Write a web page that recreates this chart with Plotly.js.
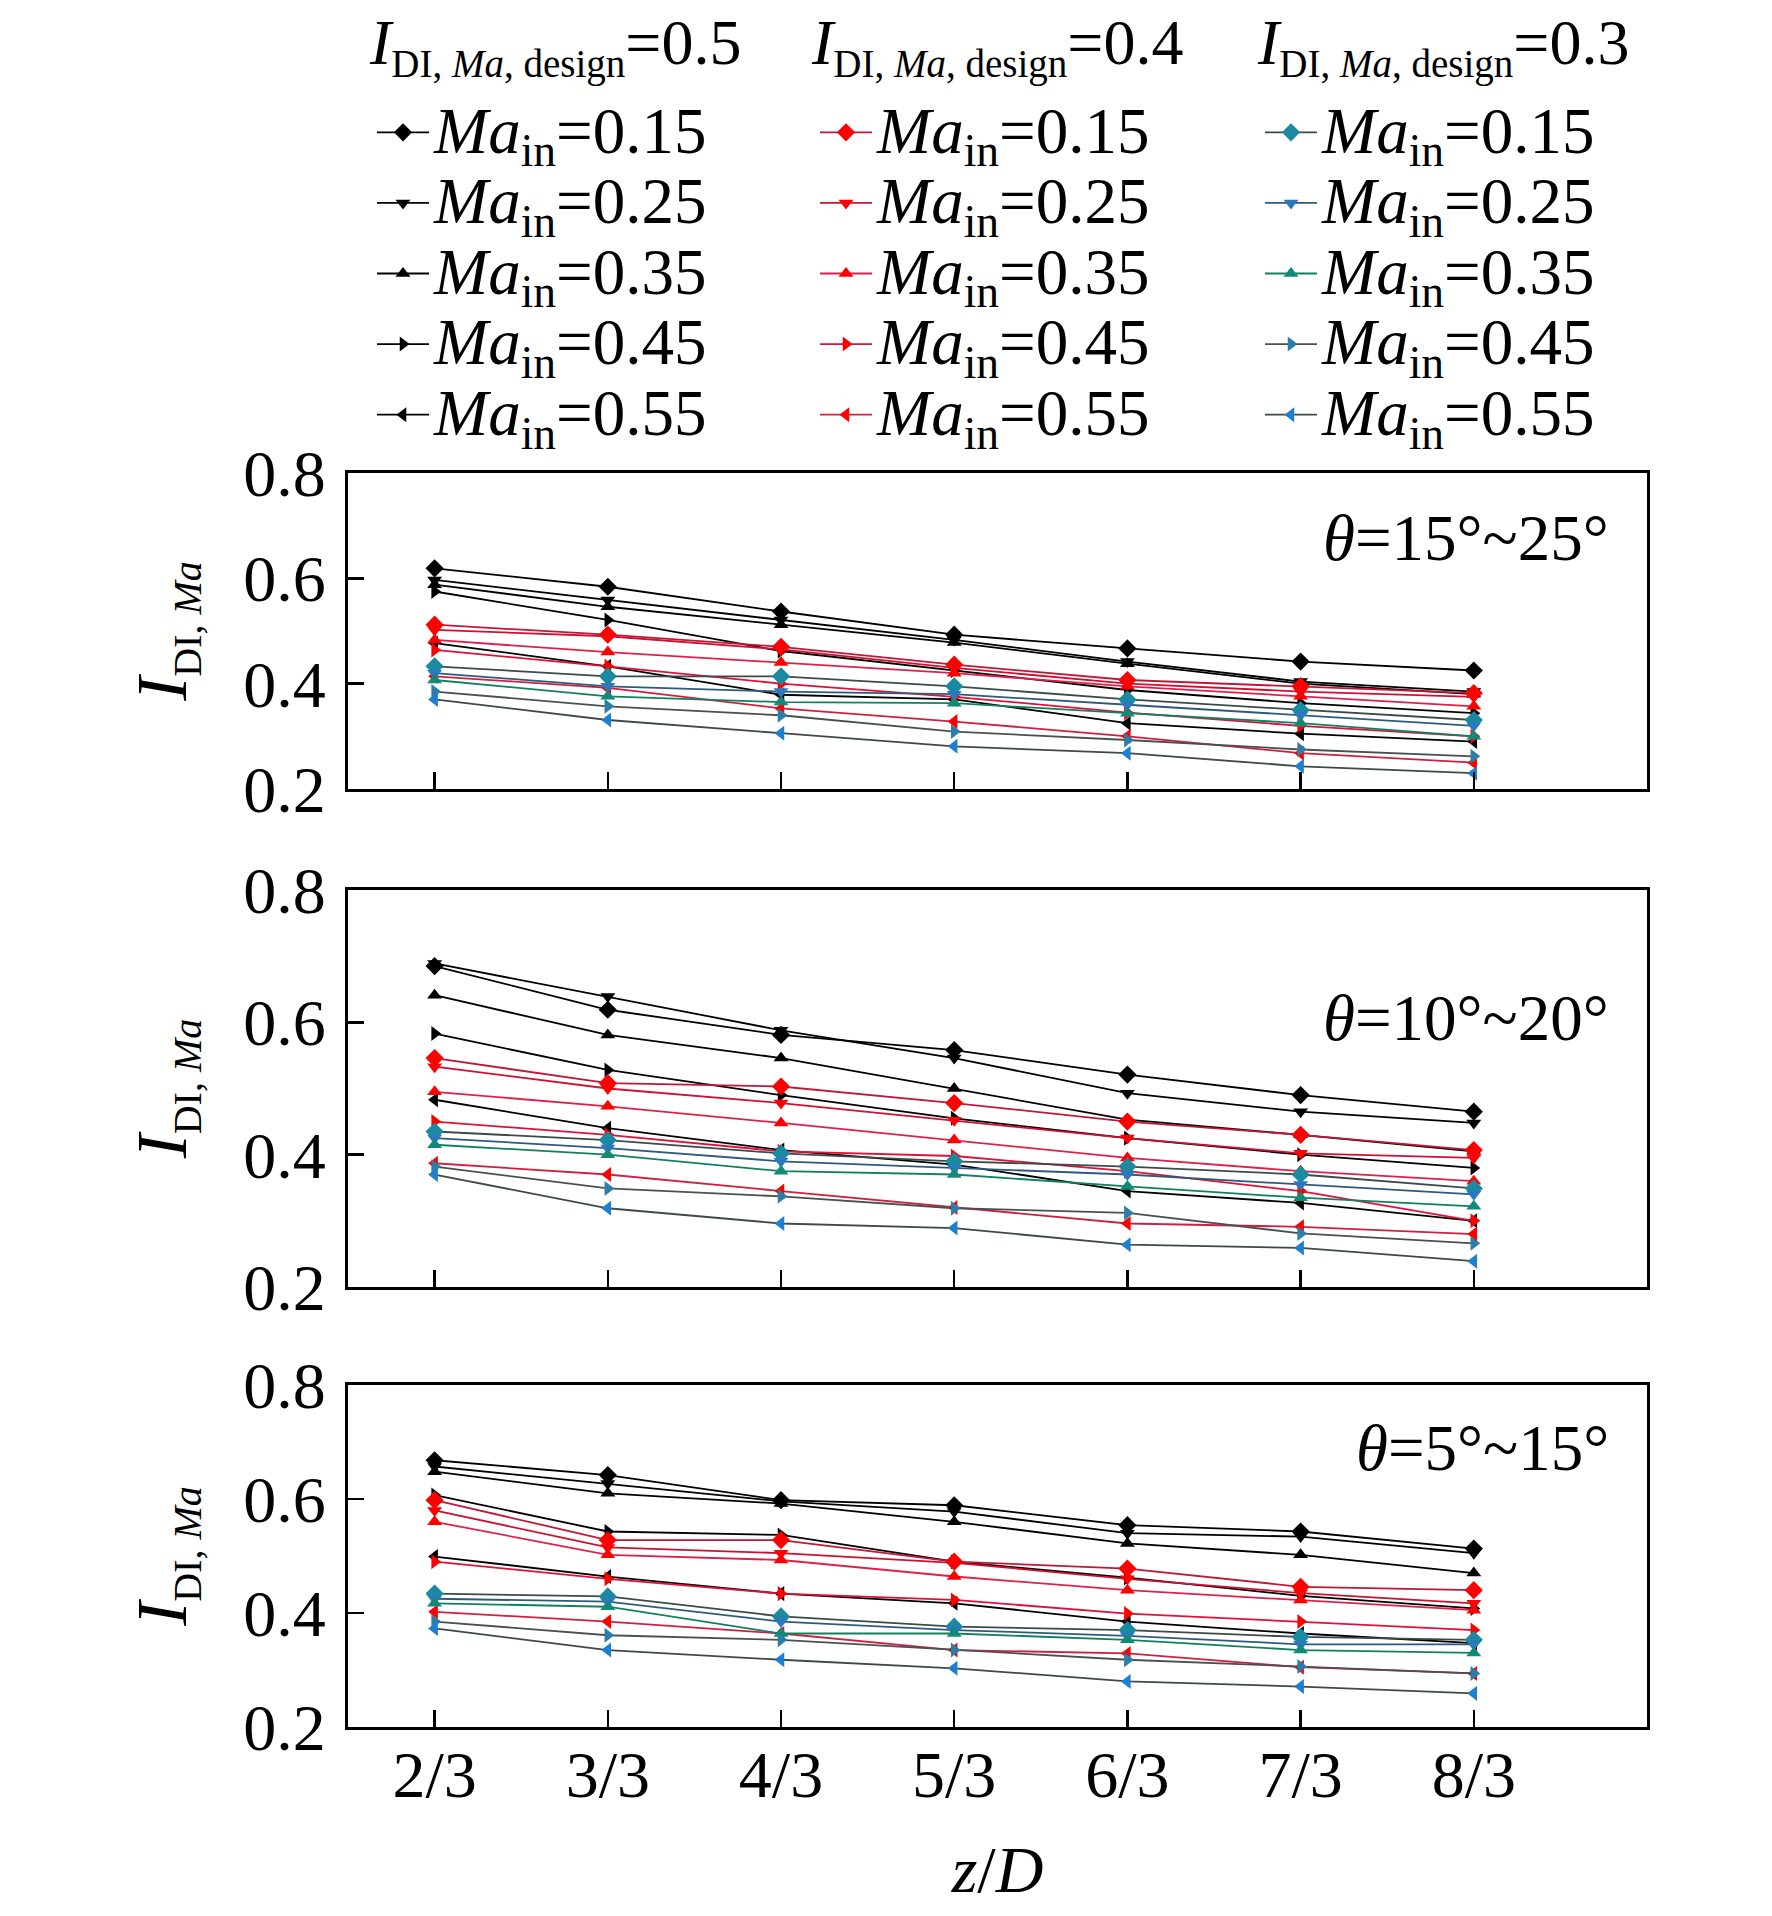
<!DOCTYPE html>
<html>
<head>
<meta charset="utf-8">
<script src="https://cdn.plot.ly/plotly-3.0.1.min.js"></script>
<style>body{margin:0;background:#fff;}</style>
</head>
<body>
<div id="chart" style="width:1772px;height:1916px;"></div>
<script>
// x positions (z/D) and their tick labels
const zD = [2/3, 3/3, 4/3, 5/3, 6/3, 7/3, 8/3];
const zDLabels = ['2/3', '3/3', '4/3', '5/3', '6/3', '7/3', '8/3'];
const maIn = ['0.15', '0.25', '0.35', '0.45', '0.55'];
const designs = ['0.5', '0.4', '0.3'];
const thetaLabels = ['15°~25°', '10°~20°', '5°~15°'];

// theta = 15~25 deg, rows are Ma_in = 0.15 .. 0.55
const t1525_d05 = [
  [0.619, 0.584, 0.537, 0.493, 0.467, 0.442, 0.425],
  [0.597, 0.559, 0.521, 0.483, 0.442, 0.404, 0.385],
  [0.588, 0.546, 0.512, 0.478, 0.438, 0.400, 0.380],
  [0.575, 0.521, 0.462, 0.425, 0.388, 0.363, 0.344],
  [0.477, 0.433, 0.379, 0.370, 0.325, 0.305, 0.290]
];
const t1525_d04 = [
  [0.512, 0.493, 0.470, 0.436, 0.407, 0.395, 0.382],
  [0.502, 0.490, 0.465, 0.430, 0.400, 0.385, 0.375],
  [0.483, 0.460, 0.440, 0.420, 0.395, 0.376, 0.357],
  [0.464, 0.433, 0.400, 0.375, 0.345, 0.320, 0.300],
  [0.414, 0.392, 0.353, 0.328, 0.300, 0.268, 0.250]
];
const t1525_d03 = [
  [0.433, 0.414, 0.414, 0.395, 0.370, 0.350, 0.331],
  [0.420, 0.395, 0.385, 0.380, 0.360, 0.340, 0.320],
  [0.407, 0.376, 0.365, 0.363, 0.344, 0.325, 0.300],
  [0.385, 0.357, 0.340, 0.309, 0.293, 0.275, 0.262],
  [0.370, 0.331, 0.306, 0.281, 0.268, 0.243, 0.230]
];

// theta = 10~20 deg
const t1020_d05 = [
  [0.685, 0.619, 0.581, 0.558, 0.521, 0.490, 0.465],
  [0.689, 0.639, 0.588, 0.546, 0.493, 0.465, 0.448],
  [0.641, 0.581, 0.546, 0.500, 0.453, 0.430, 0.405],
  [0.583, 0.528, 0.490, 0.455, 0.425, 0.400, 0.380],
  [0.483, 0.440, 0.407, 0.385, 0.345, 0.327, 0.300]
];
const t1020_d04 = [
  [0.546, 0.508, 0.503, 0.478, 0.450, 0.430, 0.407],
  [0.533, 0.500, 0.478, 0.452, 0.425, 0.402, 0.395],
  [0.495, 0.473, 0.448, 0.422, 0.395, 0.375, 0.360],
  [0.450, 0.430, 0.405, 0.398, 0.375, 0.345, 0.300],
  [0.387, 0.370, 0.345, 0.320, 0.296, 0.291, 0.280]
];
const t1020_d03 = [
  [0.435, 0.422, 0.402, 0.390, 0.382, 0.370, 0.349],
  [0.425, 0.410, 0.390, 0.380, 0.370, 0.355, 0.340],
  [0.415, 0.400, 0.375, 0.370, 0.352, 0.335, 0.322],
  [0.382, 0.349, 0.337, 0.319, 0.312, 0.281, 0.266],
  [0.370, 0.319, 0.296, 0.289, 0.264, 0.259, 0.239]
];

// theta = 5~15 deg
const t0515_d05 = [
  [0.668, 0.642, 0.598, 0.589, 0.554, 0.543, 0.513],
  [0.657, 0.627, 0.596, 0.578, 0.540, 0.534, 0.505],
  [0.648, 0.610, 0.592, 0.560, 0.522, 0.502, 0.470],
  [0.607, 0.543, 0.537, 0.490, 0.462, 0.430, 0.408],
  [0.499, 0.464, 0.434, 0.417, 0.385, 0.364, 0.347]
];
const t0515_d04 = [
  [0.598, 0.528, 0.528, 0.490, 0.478, 0.446, 0.440],
  [0.580, 0.515, 0.505, 0.488, 0.460, 0.435, 0.417],
  [0.560, 0.502, 0.493, 0.464, 0.440, 0.423, 0.405],
  [0.490, 0.460, 0.434, 0.423, 0.399, 0.385, 0.370],
  [0.402, 0.385, 0.364, 0.335, 0.329, 0.305, 0.294]
];
const t0515_d03 = [
  [0.434, 0.429, 0.394, 0.376, 0.370, 0.358, 0.353],
  [0.425, 0.420, 0.385, 0.370, 0.360, 0.345, 0.345],
  [0.417, 0.411, 0.364, 0.364, 0.353, 0.335, 0.330],
  [0.385, 0.361, 0.353, 0.335, 0.318, 0.306, 0.294],
  [0.373, 0.335, 0.318, 0.303, 0.280, 0.271, 0.259]
];

const panels = [
  [t1525_d05, t1525_d04, t1525_d03],
  [t1020_d05, t1020_d04, t1020_d03],
  [t0515_d05, t0515_d04, t0515_d03]
];

// styles
const FONT = 'Liberation Serif';
const symbols = ['diamond', 'triangle-down', 'triangle-up', 'triangle-right', 'triangle-left'];
const markerColors = [
  ['#000000', '#000000', '#000000', '#000000', '#000000'],
  ['#ff0000', '#ff0000', '#ff0000', '#ff0000', '#ff0000'],
  ['#1b8aa0', '#2a78c0', '#138a78', '#2a7ea8', '#1c7fd0']
];
const lineColors = [
  ['#000000', '#000000', '#000000', '#000000', '#000000'],
  ['#c01838', '#d01030', '#e0204a', '#e01038', '#d02040'],
  ['#3c4a4a', '#2f5a7a', '#108060', '#4a5050', '#404848']
];
const legendIds = ['legend', 'legend2', 'legend3'];

// panel frames in paper coordinates (from top: 473-789, 890-1287, 1385-1727 px)
const H = 1916, W = 1772;
const yDomains = [
  [1 - 789 / H, 1 - 473 / H],
  [1 - 1287 / H, 1 - 890 / H],
  [1 - 1727 / H, 1 - 1385 / H]
];
const xDomain = [348 / W, 1647 / W];

let traces = [];
for (let p = 0; p < 3; p++) {
  for (let g = 0; g < 3; g++) {
    for (let s = 0; s < 5; s++) {
      traces.push({
        x: zD,
        y: panels[p][g][s],
        xaxis: 'x' + (p + 1),
        yaxis: 'y' + (p + 1),
        type: 'scatter',
        mode: 'lines+markers',
        name: '<span style="font-size:65px"><i>Ma</i><sub>in</sub>=' + maIn[s] + '</span>',
        legend: legendIds[g],
        showlegend: p === 0,
        line: {color: lineColors[g][s], width: 1.8},
        marker: {symbol: symbols[s], size: s === 0 ? 14 : 13, color: markerColors[g][s]}
      });
    }
  }
}

function xAxis(p) {
  let ax = {
    domain: xDomain,
    anchor: 'y' + (p + 1),
    range: [0.5, 3.0],
    tickvals: zD,
    ticktext: zDLabels,
    showticklabels: p === 2,
    ticks: 'inside', ticklen: 17, tickwidth: 2.5, tickcolor: '#000',
    ticklabelstandoff: -12,
    showline: true, mirror: true, linecolor: '#000', linewidth: 3,
    showgrid: false, zeroline: false,
    tickfont: {family: FONT, size: 66, color: '#000'}
  };
  if (p === 2) {
    ax.title = {text: '<i>z</i>/<i>D</i>', font: {family: FONT, size: 66, color: '#000'}, standoff: 36};
  }
  return ax;
}

function yAxis(p) {
  return {
    domain: yDomains[p],
    anchor: 'x' + (p + 1),
    range: [0.2, 0.8],
    tickvals: [0.2, 0.4, 0.6, 0.8],
    ticktext: ['0.2', '0.4', '0.6', '0.8'],
    ticks: 'inside', ticklen: 16, tickwidth: 2.5, tickcolor: '#000',
    ticklabelstandoff: 6,
    showline: true, mirror: true, linecolor: '#000', linewidth: 3,
    showgrid: false, zeroline: false,
    tickfont: {family: FONT, size: 66, color: '#000'},
    title: {
      text: '<i>I</i><sub><span style="font-size:40px">DI, <i>Ma</i></span></sub>',
      font: {family: FONT, size: 72, color: '#000'},
      standoff: 34
    }
  };
}

let annotations = [];
const headerX = [367, 809, 1255];
for (let g = 0; g < 3; g++) {
  annotations.push({
    xref: 'paper', yref: 'paper',
    x: headerX[g] / W, y: 1 - 46 / H,
    xanchor: 'left', yanchor: 'middle',
    showarrow: false,
    text: '<i>I</i><sub><span style="font-size:39px">DI, <i>Ma</i>, design</span></sub>=' + designs[g],
    font: {family: FONT, size: 64, color: '#000'}
  });
}
const thetaY = [538, 1018, 1448];
for (let p = 0; p < 3; p++) {
  annotations.push({
    xref: 'paper', yref: 'paper',
    x: 1611 / W, y: 1 - thetaY[p] / H,
    xanchor: 'right', yanchor: 'middle',
    showarrow: false,
    text: '<i>θ</i>=' + thetaLabels[p],
    font: {family: FONT, size: 65, color: '#000'}
  });
}

let layout = {
  width: W, height: H,
  margin: {l: 0, r: 0, t: 0, b: 0},
  paper_bgcolor: '#ffffff',
  plot_bgcolor: '#ffffff',
  font: {family: FONT, color: '#000'},
  xaxis: xAxis(0), xaxis2: xAxis(1), xaxis3: xAxis(2),
  yaxis: yAxis(0), yaxis2: yAxis(1), yaxis3: yAxis(2),
  annotations: annotations
};
const legendX = [372, 815, 1260];
for (let g = 0; g < 3; g++) {
  layout[legendIds[g]] = {
    x: legendX[g] / W, y: 1 - 92 / H,
    xanchor: 'left', yanchor: 'top',
    bgcolor: 'rgba(0,0,0,0)',
    font: {family: FONT, size: 52, color: '#000'},
    tracegroupgap: 0,
    itemwidth: 52
  };
}

Plotly.newPlot('chart', traces, layout, {displayModeBar: false, staticPlot: true});
</script>
</body>
</html>
